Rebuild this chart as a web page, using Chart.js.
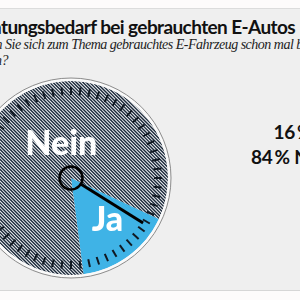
<!DOCTYPE html>
<html>
<head>
<meta charset="utf-8">
<script src="https://cdn.jsdelivr.net/npm/chart.js@4"></script>
<style>
  html, body { margin: 0; padding: 0; }
  body { width: 300px; height: 300px; overflow: hidden; position: relative; background: #fdfbfb; font-family: Lato, sans-serif; }
  .panel { position: absolute; left: 0; top: 8px; width: 300px; height: 281px; background: #efefef; border-top: 1px solid #dcdcdc; border-bottom: 1px solid #d6d6d6; }
  .title { position: absolute; right: 5px; top: 15px; white-space: nowrap; font: bold 19px Lato, sans-serif; letter-spacing: -0.6px; color: #111; }
  .sub { position: absolute; white-space: nowrap; font: italic 14px "Liberation Serif", serif; letter-spacing: -0.5px; color: #222; }
  .legend { position: absolute; right: -33px; top: 119px; text-align: right; font: bold 19px Lato, sans-serif; letter-spacing: -0.3px; color: #111; line-height: 25px; }
  #chart { position: absolute; left: -39px; top: 68px; }
</style>
</head>
<body>
<div class="panel"></div>
<div class="title">Beratungsbedarf bei gebrauchten E-Autos</div>
<div class="sub" style="left:5px; top:37px;"><span style="position:absolute; right:100%;">Haben&nbsp;</span>Sie sich zum Thema gebrauchtes E-Fahrzeug schon mal beraten</div>
<div class="sub" style="right:292px; top:53px;">lassen?</div>
<div class="legend" id="legend"></div>
<canvas id="chart" width="220" height="220"></canvas>
<script>
// Umfrage: Ja / Nein
const categories = ['Ja', 'Nein'];
const values = [16, 84];
const legendLabels = ['16\u2009% Ja', '84\u2009% Nein'];

// Deko der "Uhr"
const needleAngle = 32;   // Grad, im Uhrzeigersinn ab 3 Uhr
const tickCount = 60;

const blue = '#3fb3e6';

// feine Schraffur, Periode 10/3 px
const makeHatch = () => {
    const size = 10, period = 10 / 3;
    const c = document.createElement('canvas');
    c.width = size; c.height = size;
    const g = c.getContext('2d');
    const img = g.createImageData(size, size);
    const d1 = [0x1b, 0x29, 0x39], d2 = [0xec, 0xee, 0xf1];
    for (let y = 0; y < size; y++) {
        for (let x = 0; x < size; x++) {
            let cov = 0;
            for (let sy = 0; sy < 4; sy++) {
                for (let sx = 0; sx < 4; sx++) {
                    const t = (((x + (sx + 0.5) / 4) - (y + (sy + 0.5) / 4)) % period + period) % period;
                    if (t < period * 0.56) cov++;
                }
            }
            cov /= 16;
            const i = (y * size + x) * 4;
            for (let k = 0; k < 3; k++) img.data[i + k] = Math.round(d1[k] * cov + d2[k] * (1 - cov));
            img.data[i + 3] = 255;
        }
    }
    g.putImageData(img, 0, 0);
    return document.getElementById('chart').getContext('2d').createPattern(c, 'repeat');
};

const clockPlugin = {
    id: 'clock',
    afterDatasetsDraw(chart) {
        const ctx = chart.ctx;
        const arcs = chart.getDatasetMeta(0).data;
        const cx = arcs[0].x, cy = arcs[0].y, r = arcs[0].outerRadius;
        ctx.save();
        // Rand
        ctx.strokeStyle = '#fafafa';
        ctx.lineWidth = 2.5;
        ctx.beginPath(); ctx.arc(cx, cy, r + 1.2, 0, Math.PI * 2); ctx.stroke();
        ctx.strokeStyle = '#8c8c8c';
        ctx.lineWidth = 1;
        ctx.beginPath(); ctx.arc(cx, cy, r + 3, 0, Math.PI * 2); ctx.stroke();
        // Striche
        ctx.strokeStyle = '#111922';
        ctx.lineWidth = 2;
        for (let i = 0; i < tickCount; i++) {
            const a = i / tickCount * Math.PI * 2;
            ctx.beginPath();
            ctx.moveTo(cx + Math.cos(a) * (r - 14), cy + Math.sin(a) * (r - 14));
            ctx.lineTo(cx + Math.cos(a) * (r - 6), cy + Math.sin(a) * (r - 6));
            ctx.stroke();
        }
        // Labels
        ctx.fillStyle = '#fff';
        ctx.font = '900 34px Lato, sans-serif';
        ctx.textAlign = 'center';
        ctx.textBaseline = 'middle';
        const tweaks = [{ da: -5, f: 0.57 }, { da: 20, f: 0.36 }];
        arcs.forEach((arc, i) => {
            const mid = (arc.startAngle + arc.endAngle) / 2 + tweaks[i].da * Math.PI / 180;
            const rr = r * tweaks[i].f;
            ctx.fillText(categories[i], cx + Math.cos(mid) * rr, cy + Math.sin(mid) * rr);
        });
        // Zeiger
        const na = needleAngle * Math.PI / 180;
        ctx.strokeStyle = '#000';
        ctx.lineWidth = 3;
        ctx.beginPath();
        ctx.moveTo(cx + Math.cos(na) * 11, cy + Math.sin(na) * 11);
        ctx.lineTo(cx + Math.cos(na) * 85, cy + Math.sin(na) * 85);
        ctx.stroke();
        ctx.lineWidth = 2.5;
        ctx.beginPath(); ctx.arc(cx, cy, 11.5, 0, Math.PI * 2); ctx.stroke();
        ctx.restore();
    }
};

const renderChart = () => {
    document.getElementById('legend').innerHTML = legendLabels.join('<br>');
    const ctx = document.getElementById('chart').getContext('2d');
    new Chart(ctx, {
        type: 'pie',
        data: {
            labels: categories,
            datasets: [{
                data: values,
                backgroundColor: [blue, makeHatch()],
                borderWidth: 0,
                hoverOffset: 0
            }]
        },
        options: {
            responsive: false,
            animation: false,
            rotation: 115,
            radius: 97,
            layout: { padding: 0 },
            plugins: { legend: { display: false }, tooltip: { enabled: false } }
        },
        plugins: [clockPlugin]
    });
};

document.addEventListener('DOMContentLoaded', renderChart);
</script>
</body>
</html>
